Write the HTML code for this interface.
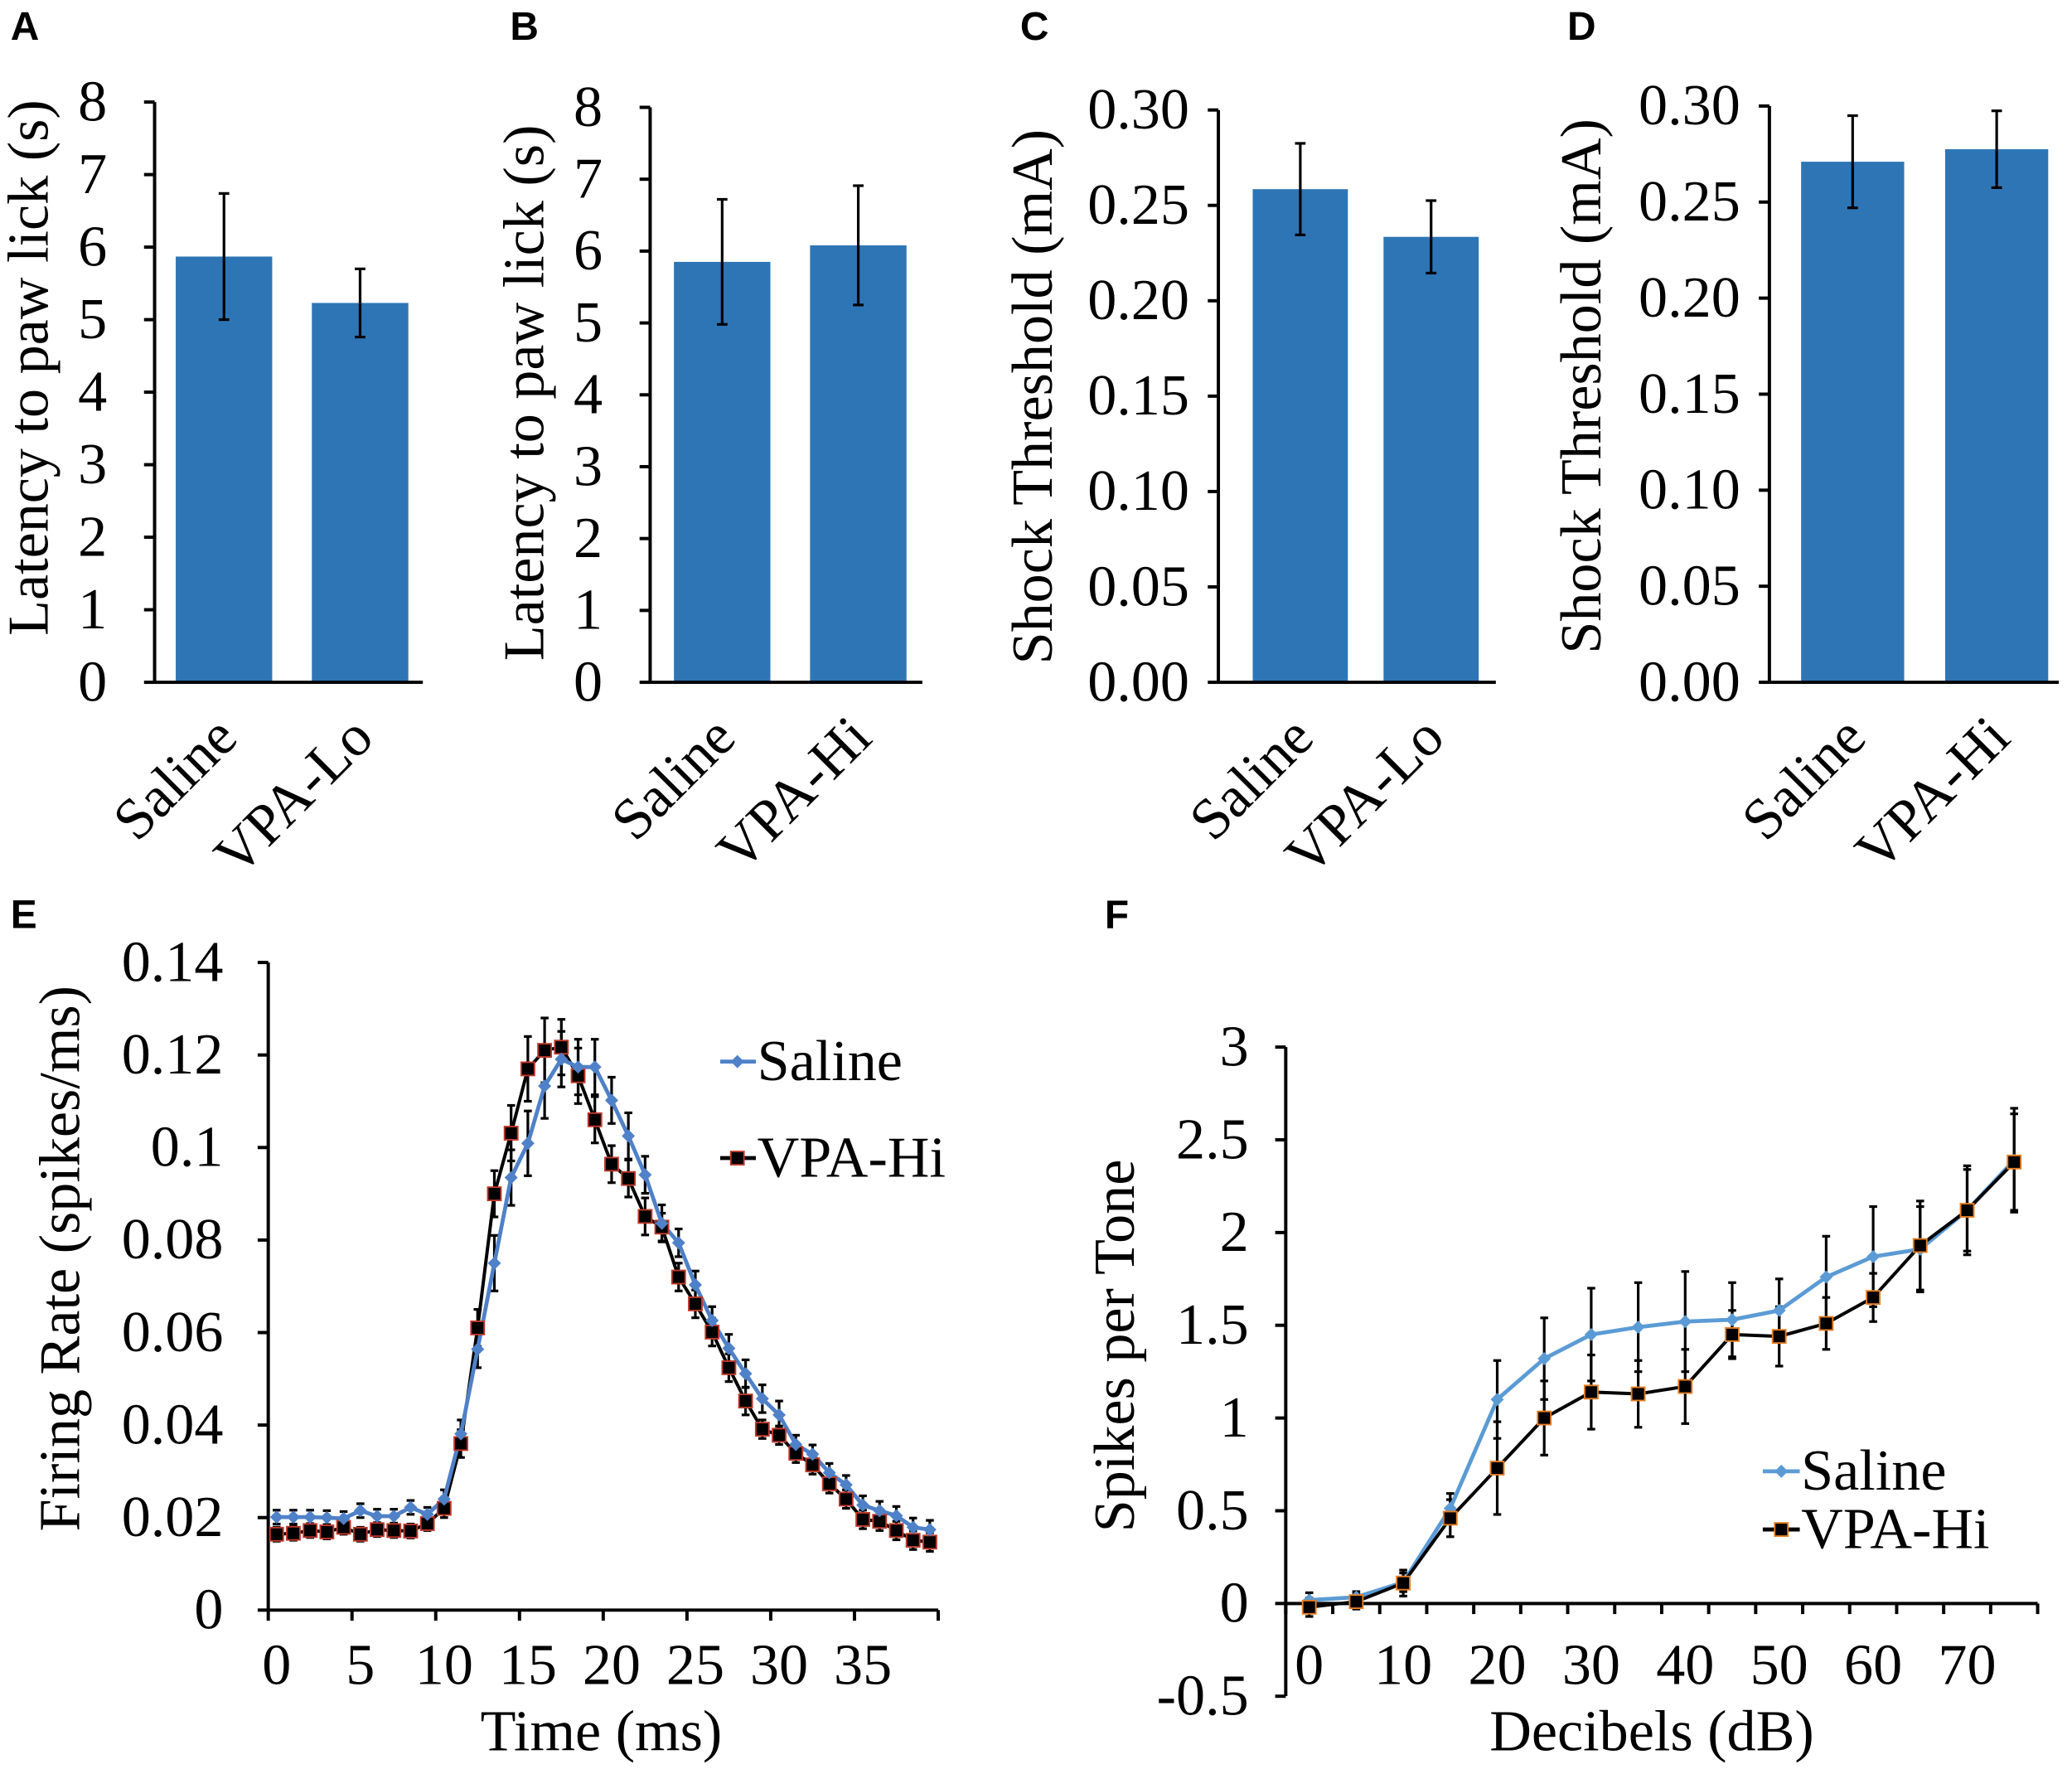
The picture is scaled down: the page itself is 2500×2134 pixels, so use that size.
<!DOCTYPE html>
<html><head><meta charset="utf-8"><style>
html,body{margin:0;padding:0;background:#fff}
svg{display:block}
text{font-family:"Liberation Serif",serif;fill:#000}
.lt{font-family:"Liberation Sans",sans-serif;font-weight:bold}
</style></head><body>
<svg id="fig" width="2500" height="2134" viewBox="0 0 1568 1338" xmlns="http://www.w3.org/2000/svg"></svg>
<script>
// Panel A
const aCats=["Saline","VPA-Lo"];const aVals=[5.87,5.23];const aErrs=[0.87,0.47];const aTicks=[0,1,2,3,4,5,6,7,8];
// Panel B
const bCats=["Saline","VPA-Hi"];const bVals=[5.85,6.08];const bErrs=[0.87,0.83];const bTicks=[0,1,2,3,4,5,6,7,8];
// Panel C
const cCats=["Saline","VPA-Lo"];const cVals=[0.2585,0.2335];const cErrs=[0.024,0.019];const cTicks=["0.00","0.05","0.10","0.15","0.20","0.25","0.30"];
// Panel D
const dCats=["Saline","VPA-Hi"];const dVals=[0.271,0.2775];const dErrs=[0.024,0.02];const dTicks=["0.00","0.05","0.10","0.15","0.20","0.25","0.30"];
// Panel E
const eSaline=[0.0201,0.0201,0.0201,0.0200,0.0198,0.0215,0.0203,0.0203,0.0222,0.0207,0.0240,0.0381,0.0564,0.0750,0.0935,0.1009,0.1133,0.1191,0.1174,0.1174,0.1102,0.1025,0.0941,0.0836,0.0794,0.0703,0.0626,0.0566,0.0511,0.0457,0.0422,0.0358,0.0337,0.0297,0.0271,0.0227,0.0215,0.0204,0.0179,0.0174];
const eVPA=[0.0164,0.0166,0.0172,0.0169,0.0179,0.0164,0.0174,0.0172,0.0171,0.0187,0.0220,0.0360,0.0610,0.0900,0.1031,0.1170,0.1210,0.1217,0.1155,0.1060,0.0964,0.0933,0.0851,0.0828,0.0720,0.0662,0.0601,0.0524,0.0452,0.0391,0.0378,0.0339,0.0314,0.0273,0.0240,0.0196,0.0192,0.0172,0.0151,0.0147];
const eSalErr=[0.0015,0.0015,0.0015,0.0015,0.0015,0.0015,0.0015,0.0015,0.0015,0.0015,0.002,0.003,0.004,0.006,0.006,0.007,0.007,0.006,0.006,0.006,0.005,0.005,0.004,0.004,0.003,0.003,0.003,0.003,0.003,0.003,0.003,0.002,0.002,0.002,0.002,0.002,0.002,0.002,0.002,0.002];
const eVPAErr=[0.0015,0.0015,0.0015,0.0015,0.0015,0.0015,0.0015,0.0015,0.0015,0.0015,0.002,0.003,0.004,0.005,0.006,0.007,0.007,0.006,0.006,0.005,0.004,0.004,0.004,0.003,0.003,0.003,0.003,0.003,0.003,0.002,0.002,0.002,0.002,0.002,0.002,0.002,0.002,0.002,0.002,0.002];
const eXTicks=[0,5,10,15,20,25,30,35];const eYTicks=["0","0.02","0.04","0.06","0.08","0.1","0.12","0.14"];
// Panel F
const fSaline=[0.018,0.034,0.114,0.513,1.10,1.32,1.45,1.49,1.52,1.53,1.58,1.76,1.87,1.91,2.12,2.39];
const fVPA=[-0.02,0.01,0.11,0.46,0.73,1.00,1.14,1.13,1.17,1.45,1.44,1.51,1.65,1.93,2.12,2.38];
const fSalErr=[0.04,0.03,0.05,0.08,0.21,0.22,0.25,0.24,0.27,0.2,0.17,0.22,0.27,0.23,0.24,0.28];
const fVPAErr=[0.05,0.04,0.07,0.10,0.25,0.2,0.2,0.18,0.2,0.13,0.16,0.14,0.13,0.24,0.22,0.26];
const fXTicks=[0,10,20,30,40,50,60,70];const fYTicks=["-0.5","0","0.5","1","1.5","2","2.5","3"];

const FS=44;
const svg=document.getElementById('fig');const NS="http://www.w3.org/2000/svg";
function mk(tag,attrs,parent,txt){const e=document.createElementNS(NS,tag);for(const k in attrs)e.setAttribute(k,attrs[k]);if(txt!==undefined)e.textContent=txt;(parent||svg).appendChild(e);return e;}

function barPanel(letter,lx,cats,vals,errs,ticks,ax,y0,ymax,maxV,axEnd,barX,barW,title,titleX,titleY,gap){
  const g=mk('g',{});
  
  
  const t=mk('text',{x:lx,y:30,'font-size':30,class:'lt'},g,letter);
  
  
  const Y=v=>y0-(v/maxV)*(y0-ymax);
  ticks.forEach(tk=>{const v=parseFloat(tk);const yy=Y(v);
    mk('line',{x1:ax-8,x2:ax,y1:yy,y2:yy,stroke:'#000','stroke-width':2.5},g);
    const tl=mk('text',{x:ax-gap,y:yy+14,'font-size':FS,'text-anchor':'end'},g,tk);
    
    });
  vals.forEach((v,i)=>{const x=barX[i];
    const r=mk('rect',{x:x,y:Y(v),width:barW,height:y0-Y(v),fill:'#2e75b6'},g);
    
    
    const cx=x+barW/2;
    mk('line',{x1:cx,x2:cx,y1:Y(v+errs[i]),y2:Y(v-errs[i]),stroke:'#000','stroke-width':2},g);
    mk('line',{x1:cx-4,x2:cx+4,y1:Y(v+errs[i]),y2:Y(v+errs[i]),stroke:'#000','stroke-width':2},g);
    mk('line',{x1:cx-4,x2:cx+4,y1:Y(v-errs[i]),y2:Y(v-errs[i]),stroke:'#000','stroke-width':2},g);
    const cl=mk('text',{x:0,y:0,'font-size':FS,'text-anchor':'end',transform:`translate(${cx+12},${y0+44}) rotate(-45)`},g,cats[i]);
    
    });
  mk('line',{x1:ax,x2:ax,y1:ymax,y2:y0,stroke:'#000','stroke-width':2.5},g);
  mk('line',{x1:ax,x2:axEnd,y1:y0,y2:y0,stroke:'#000','stroke-width':2.5},g);
  const yt=mk('text',{x:0,y:0,'font-size':FS,'text-anchor':'middle',transform:`translate(${titleX},${titleY}) rotate(-90)`},g,title);
  
  
}
barPanel('A',8,aCats,aVals,aErrs,aTicks.map(String),117,516,77,8,320,[133,236],73,"Latency to paw lick (s)",36,278,36);
barPanel('B',386,bCats,bVals,bErrs,bTicks.map(String),492,516,81,8,698,[510,613],73,"Latency to paw lick (s)",411,297,36);
barPanel('C',772,cCats,cVals,cErrs,cTicks,922,516,83,0.30,1132,[948,1047],72,"Shock Threshold (mA)",796,300,22);
barPanel('D',1186,dCats,dVals,dErrs,dTicks,1339,516,80,0.30,1558,[1363,1472],78,"Shock Threshold (mA)",1211,292,22);

function diamond(g,x,y,c){mk('path',{d:`M${x} ${y-5}L${x+5} ${y}L${x} ${y+5}L${x-5} ${y}Z`,fill:c},g);}
function square(g,x,y,edge){mk('rect',{x:x-5,y:y-5,width:10,height:10,fill:'#000',stroke:edge,'stroke-width':1.2},g);}
function errBar(g,x,ya,yb){mk('line',{x1:x,x2:x,y1:ya,y2:yb,stroke:'#000','stroke-width':2},g);
  mk('line',{x1:x-3,x2:x+3,y1:ya,y2:ya,stroke:'#000','stroke-width':2},g);mk('line',{x1:x-3,x2:x+3,y1:yb,y2:yb,stroke:'#000','stroke-width':2},g);}

// Panel E
(function(){
  const g=mk('g',{});
  const lt=mk('text',{x:8,y:702,'font-size':30,class:'lt'},g,'E');
  const ax=203,y0=1218,yTop=728,xEnd=710,n=eSaline.length,cw=(xEnd-ax)/n;
  const X=i=>ax+cw*(i+0.5),Y=v=>y0-v/0.14*(y0-yTop);
  eYTicks.forEach(tk=>{const yy=Y(parseFloat(tk));mk('line',{x1:ax-8,x2:ax,y1:yy,y2:yy,stroke:'#000','stroke-width':2.5},g);
    const tl=mk('text',{x:ax-34,y:yy+14,'font-size':FS,'text-anchor':'end'},g,tk);});
  for(let k=0;k<=n;k+=5){const xx=ax+k*cw;mk('line',{x1:xx,x2:xx,y1:y0,y2:y0+8,stroke:'#000','stroke-width':2.5},g);}
  eXTicks.forEach(v=>{const tl=mk('text',{x:X(v),y:y0+56,'font-size':FS,'text-anchor':'middle'},g,String(v));});
  mk('line',{x1:ax,x2:ax,y1:yTop,y2:y0,stroke:'#000','stroke-width':2.5},g);
  mk('line',{x1:ax,x2:xEnd,y1:y0,y2:y0,stroke:'#000','stroke-width':2.5},g);
  eSaline.forEach((v,i)=>errBar(g,X(i),Y(v+eSalErr[i]),Y(v-eSalErr[i])));
  eVPA.forEach((v,i)=>errBar(g,X(i),Y(v+eVPAErr[i]),Y(v-eVPAErr[i])));
  const pv=mk('polyline',{points:eVPA.map((v,i)=>X(i)+','+Y(v)).join(' '),fill:'none',stroke:'#000','stroke-width':2.5},g);
  
  const ps=mk('polyline',{points:eSaline.map((v,i)=>X(i)+','+Y(v)).join(' '),fill:'none',stroke:'#4f81c8','stroke-width':3},g);
  
  eVPA.forEach((v,i)=>square(g,X(i),Y(v),'#c0392b'));
  eSaline.forEach((v,i)=>diamond(g,X(i),Y(v),'#4f81c8'));
  const l1=mk('g',{},g);
  mk('line',{x1:545,x2:572,y1:803,y2:803,stroke:'#4f81c8','stroke-width':3},l1);diamond(l1,558,803,'#4f81c8');
  mk('text',{x:573,y:817,'font-size':FS},l1,'Saline');
  const l2=mk('g',{},g);
  mk('line',{x1:545,x2:572,y1:876,y2:876,stroke:'#000','stroke-width':3},l2);square(l2,558,876,'#c0392b');
  mk('text',{x:573,y:890,'font-size':FS},l2,'VPA-Hi');
  const yt=mk('text',{x:0,y:0,'font-size':FS,'text-anchor':'middle',transform:'translate(60,952) rotate(-90)'},g,'Firing Rate (spikes/ms)');
  const xt=mk('text',{x:455,y:1324,'font-size':FS,'text-anchor':'middle'},g,'Time (ms)');
})();

// Panel F
(function(){
  const g=mk('g',{});
  const lt=mk('text',{x:836,y:702,'font-size':30,class:'lt'},g,'F');
  const ax=973,y0=1213,yTop=792,yBot=1283,xEnd=1542,n=fSaline.length,cw=(xEnd-ax)/n;
  const X=i=>ax+cw*(i+0.5),Y=v=>y0-v/3*(y0-yTop);
  fYTicks.forEach(tk=>{const yy=Y(parseFloat(tk));mk('line',{x1:ax-8,x2:ax,y1:yy,y2:yy,stroke:'#000','stroke-width':2.5},g);
    const tl=mk('text',{x:ax-28,y:yy+14,'font-size':FS,'text-anchor':'end'},g,tk);});
  for(let k=0;k<=n;k++){const xx=ax+k*cw;mk('line',{x1:xx,x2:xx,y1:y0,y2:y0+8,stroke:'#000','stroke-width':2.5},g);}
  fXTicks.forEach(v=>{const tl=mk('text',{x:X(v/5),y:1274,'font-size':FS,'text-anchor':'middle'},g,String(v));});
  mk('line',{x1:ax,x2:ax,y1:yTop,y2:yBot,stroke:'#000','stroke-width':2.5},g);
  mk('line',{x1:ax,x2:xEnd,y1:y0,y2:y0,stroke:'#000','stroke-width':2.5},g);
  fSaline.forEach((v,i)=>errBar(g,X(i),Y(v+fSalErr[i]),Y(v-fSalErr[i])));
  fVPA.forEach((v,i)=>errBar(g,X(i),Y(v+fVPAErr[i]),Y(v-fVPAErr[i])));
  const ps=mk('polyline',{points:fSaline.map((v,i)=>X(i)+','+Y(v)).join(' '),fill:'none',stroke:'#5b9bd5','stroke-width':3},g);
  
  const pv=mk('polyline',{points:fVPA.map((v,i)=>X(i)+','+Y(v)).join(' '),fill:'none',stroke:'#000','stroke-width':2.5},g);
  
  fSaline.forEach((v,i)=>diamond(g,X(i),Y(v),'#5b9bd5'));
  fVPA.forEach((v,i)=>square(g,X(i),Y(v),'#e67e22'));
  const l1=mk('g',{},g);
  mk('line',{x1:1334,x2:1362,y1:1113,y2:1113,stroke:'#5b9bd5','stroke-width':3},l1);diamond(l1,1348,1113,'#5b9bd5');
  mk('text',{x:1363,y:1127,'font-size':FS},l1,'Saline');
  const l2=mk('g',{},g);
  mk('line',{x1:1334,x2:1362,y1:1157,y2:1157,stroke:'#000','stroke-width':3},l2);square(l2,1348,1157,'#e67e22');
  mk('text',{x:1363,y:1171,'font-size':FS},l2,'VPA-Hi');
  const yt=mk('text',{x:0,y:0,'font-size':FS,'text-anchor':'middle',transform:'translate(858,1018) rotate(-90)'},g,'Spikes per Tone');
  const xt=mk('text',{x:1250,y:1324,'font-size':FS,'text-anchor':'middle'},g,'Decibels (dB)');
})();
</script>
</body></html>
